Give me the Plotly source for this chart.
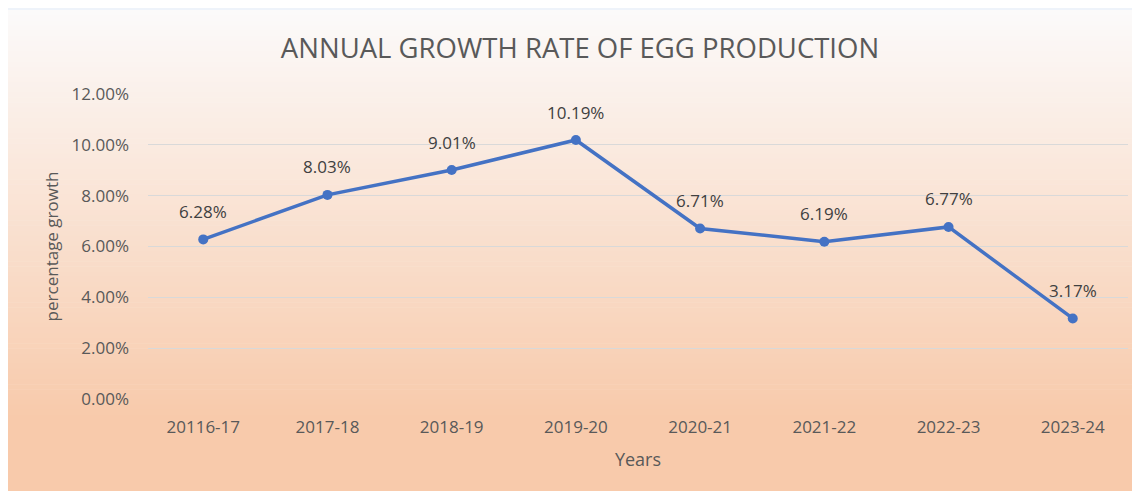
import plotly.graph_objects as go

years = ["20116-17", "2017-18", "2018-19", "2019-20", "2020-21", "2021-22", "2022-23", "2023-24"]
growth = [6.28, 8.03, 9.01, 10.19, 6.71, 6.19, 6.77, 3.17]
y_ticks = [0, 2, 4, 6, 8, 10, 12]
y_tick_labels = [f"{v:.2f}%" for v in y_ticks]

OFF = 8  # page body margin
W, H = 1140 - OFF, 491 - OFF
L, T = 148 - OFF, 94 - OFF
pw, ph = 980, 305
R = W - L - pw
B = H - T - ph

def py(page_px):
    return 1 + (T - (page_px - OFF)) / ph

def px(page_px):
    return ((page_px - OFF) - L) / pw

fig = go.Figure()
fig.add_trace(go.Scatter(
    x=years, y=growth, mode="lines+markers",
    line=dict(color="#4472C4", width=3.5),
    marker=dict(color="#4472C4", size=10),
    hoverinfo="skip", showlegend=False,
))

# gradient background via stacked shapes
shapes = []
n = 80
top_px, bot_px = 10, 420
c0 = (251, 250, 250)
c1 = (248, 202, 171)
x0, x1 = px(4), px(1150)
for i in range(n):
    a = top_px + (bot_px - top_px) * i / n
    b = top_px + (bot_px - top_px) * (i + 1) / n + 0.6
    t = i / (n - 1)
    col = tuple(int(round(c0[k] + (c1[k] - c0[k]) * t)) for k in range(3))
    shapes.append(dict(type="rect", xref="paper", yref="paper", x0=x0, x1=x1,
                       y0=py(b), y1=py(a), line=dict(width=0),
                       fillcolor=f"rgb{col}", layer="below"))
shapes.append(dict(type="rect", xref="paper", yref="paper", x0=x0, x1=x1,
                   y0=py(500), y1=py(bot_px), line=dict(width=0),
                   fillcolor=f"rgb{c1}", layer="below"))
# light frame strip around the panel
shapes.append(dict(type="rect", xref="paper", yref="paper", x0=px(0), x1=x1,
                   y0=py(10), y1=py(0), line=dict(width=0),
                   fillcolor="rgb(238,243,250)", layer="below"))
shapes.append(dict(type="rect", xref="paper", yref="paper", x0=px(0), x1=x0,
                   y0=py(500), y1=py(10), line=dict(width=0),
                   fillcolor="rgb(238,243,250)", layer="below"))

annotations = []
for xv, yv in zip(years, growth):
    annotations.append(dict(x=xv, y=yv, xref="x", yref="y", text=f"{yv:.2f}%",
                            showarrow=False, yshift=28,
                            font=dict(size=17, color="#404040")))

font_family = "Open Sans, Arial"
fig.update_layout(
    width=W, height=H,
    margin=dict(l=L, r=R, t=T, b=B, autoexpand=False),
    paper_bgcolor="white", plot_bgcolor="rgba(0,0,0,0)",
    shapes=shapes, annotations=annotations,
    title=dict(text="ANNUAL GROWTH RATE OF EGG PRODUCTION", x=px(580), xanchor="center",
               xref="paper",
               y=1 - (48 - OFF) / H, yanchor="middle",
               font=dict(size=27.5, color="#595959", family=font_family)),
    font=dict(family=font_family, color="#595959", size=17),
    xaxis=dict(showgrid=False, zeroline=False, showline=False, ticks="",
               ticklabelstandoff=16,
               tickfont=dict(size=17, color="#595959"),
               title=dict(text="Years", font=dict(size=18, color="#595959"), standoff=16)),
    yaxis=dict(range=[0, 12], tickvals=y_ticks, ticktext=y_tick_labels,
               showgrid=True, gridcolor="#d9d9d9", gridwidth=1, zeroline=False,
               showline=False, ticks="", ticklabelstandoff=18,
               tickfont=dict(size=17, color="#595959"),
               title=dict(text="percentage growth", font=dict(size=17, color="#595959"), standoff=8)),
)

fig.write_html("out.html")
